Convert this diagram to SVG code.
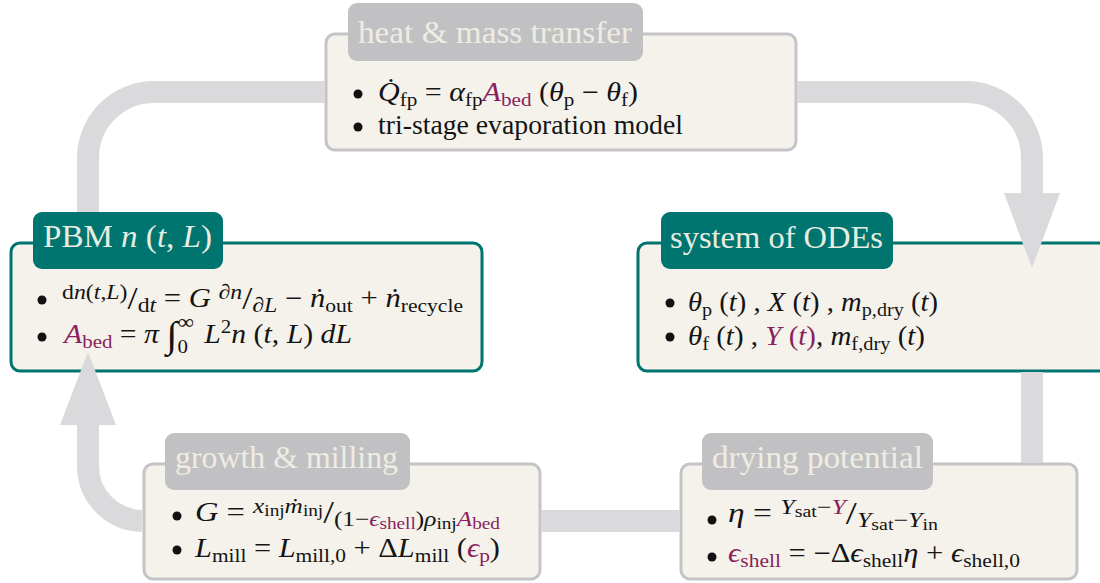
<svg xmlns="http://www.w3.org/2000/svg" width="1100" height="583" viewBox="0 0 1100 583">
  <style>
    .box-g { fill: #f4f2ea; stroke: #c4c4c6; stroke-width: 3; }
    .box-t { fill: #f4f2ea; stroke: #00746f; stroke-width: 3; }
    .hd-g { fill: #c1c1c4; }
    .hd-t { fill: #00746f; }
    .ht { font-family: "Liberation Serif", "DejaVu Serif", serif; font-size: 32px; }
    .ht-g { fill: #efece2; }
    .ht-t { fill: #e8ede2; }
    .m { font-family: "Liberation Serif", "DejaVu Serif", serif; font-size: 27px; fill: #141414; }
    .i { font-style: italic; }
    .s { font-size: 19px; }
    .ss { font-size: 14px; }
    .f { font-size: 21px; }
    .ff { font-size: 16px; }
    .big { font-size: 32px; }
    .int { font-size: 37px; }
    .p { fill: #8a1f60; }
    .band { fill: none; stroke: #dadadc; stroke-width: 22; }
    .head { fill: #dadadc; }
    .dot { fill: #111111; }
  </style>

  <!-- heat & mass transfer -->
  <g id="heat">
    <rect class="box-g" x="326" y="34" width="470" height="116" rx="9"/>
    <rect class="hd-g" x="348" y="3" width="295" height="58" rx="9"/>
    <text class="ht ht-g" x="358" y="43" textLength="274" lengthAdjust="spacingAndGlyphs">heat &amp; mass transfer</text>
    <circle class="dot" cx="358" cy="94" r="4.5"/>
    <circle class="dot" cx="358" cy="127" r="4.5"/>
    <text class="m" x="378" y="101" textLength="260" lengthAdjust="spacingAndGlyphs"><tspan class="i">Q̇</tspan><tspan class="s" dy="5">fp</tspan><tspan dy="-5"> = </tspan><tspan class="i">α</tspan><tspan class="s" dy="5">fp</tspan><tspan class="i p" dy="-5">A</tspan><tspan class="s p" dy="5">bed</tspan><tspan dy="-5"> (</tspan><tspan class="i">θ</tspan><tspan class="s" dy="5">p</tspan><tspan dy="-5"> − </tspan><tspan class="i">θ</tspan><tspan class="s" dy="5">f</tspan><tspan dy="-5">)</tspan></text>
    <text class="m" x="378" y="134" textLength="305" lengthAdjust="spacingAndGlyphs">tri-stage evaporation model</text>
  </g>

  <!-- population balance -->
  <g id="pbm">
    <rect class="box-t" x="11" y="243" width="471" height="128" rx="9"/>
    <rect class="hd-t" x="33" y="212" width="190" height="57" rx="9"/>
    <text class="ht ht-t" x="43" y="247" textLength="169" lengthAdjust="spacingAndGlyphs">PBM <tspan class="i">n</tspan> (<tspan class="i">t</tspan>, <tspan class="i">L</tspan>)</text>
    <circle class="dot" cx="42" cy="300" r="4.5"/>
    <circle class="dot" cx="42" cy="337" r="4.5"/>
    <text class="m" x="62" y="307" textLength="401" lengthAdjust="spacingAndGlyphs"><tspan class="f" dy="-8">d</tspan><tspan class="f i">n</tspan><tspan class="f">(</tspan><tspan class="f i">t</tspan><tspan class="f">,</tspan><tspan class="f i">L</tspan><tspan class="f">)</tspan><tspan class="big" dy="10">/</tspan><tspan class="f" dy="3">d</tspan><tspan class="f i">t</tspan><tspan dy="-5"> = </tspan><tspan class="i">G </tspan><tspan class="f" dy="-8">∂</tspan><tspan class="f i">n</tspan><tspan class="big" dy="10">/</tspan><tspan class="f" dy="3">∂</tspan><tspan class="f i">L</tspan><tspan dy="-5"> − </tspan><tspan class="i">ṅ</tspan><tspan class="s" dy="5">out</tspan><tspan dy="-5"> + </tspan><tspan class="i">ṅ</tspan><tspan class="s" dy="5">recycle</tspan></text>
    <text class="m" x="64" y="343" textLength="288" lengthAdjust="spacingAndGlyphs"><tspan class="i p">A</tspan><tspan class="s p" dy="5">bed</tspan><tspan dy="-5"> = </tspan><tspan class="i">π </tspan><tspan class="int" dy="4">∫</tspan><tspan class="f" dy="-18">∞</tspan><tspan class="s" dx="-15" dy="24">0</tspan><tspan dx="8" dy="-10"> </tspan><tspan class="i">L</tspan><tspan class="s" dy="-10">2</tspan><tspan class="i" dy="10">n</tspan><tspan> (</tspan><tspan class="i">t</tspan><tspan>, </tspan><tspan class="i">L</tspan><tspan>) </tspan><tspan class="i">dL</tspan></text>
  </g>

  <!-- ODE system -->
  <g id="odes">
    <rect class="box-t" x="638" y="243" width="480" height="128" rx="9"/>
    <rect class="hd-t" x="661" y="212" width="232" height="57" rx="9"/>
    <text class="ht ht-t" x="670" y="248" textLength="213" lengthAdjust="spacingAndGlyphs">system of ODEs</text>
    <circle class="dot" cx="670" cy="303" r="4.5"/>
    <circle class="dot" cx="670" cy="337" r="4.5"/>
    <text class="m" x="688" y="311" textLength="250" lengthAdjust="spacingAndGlyphs"><tspan class="i">θ</tspan><tspan class="s" dy="5">p</tspan><tspan dy="-5"> (</tspan><tspan class="i">t</tspan><tspan>) , </tspan><tspan class="i">X</tspan><tspan> (</tspan><tspan class="i">t</tspan><tspan>) , </tspan><tspan class="i">m</tspan><tspan class="s" dy="5">p,dry</tspan><tspan dy="-5"> (</tspan><tspan class="i">t</tspan><tspan>)</tspan></text>
    <text class="m" x="688" y="345" textLength="237" lengthAdjust="spacingAndGlyphs"><tspan class="i">θ</tspan><tspan class="s" dy="5">f</tspan><tspan dy="-5"> (</tspan><tspan class="i">t</tspan><tspan>) , </tspan><tspan class="i p">Y</tspan><tspan class="p"> (</tspan><tspan class="i p">t</tspan><tspan class="p">)</tspan><tspan>, </tspan><tspan class="i">m</tspan><tspan class="s" dy="5">f,dry</tspan><tspan dy="-5"> (</tspan><tspan class="i">t</tspan><tspan>)</tspan></text>
  </g>

  <!-- growth & milling -->
  <g id="growth">
    <rect class="box-g" x="144" y="464" width="396" height="115" rx="9"/>
    <rect class="hd-g" x="165" y="433" width="245" height="57" rx="9"/>
    <text class="ht ht-g" x="175" y="468" textLength="223" lengthAdjust="spacingAndGlyphs">growth &amp; milling</text>
    <circle class="dot" cx="177" cy="516" r="4.5"/>
    <circle class="dot" cx="177" cy="550" r="4.5"/>
    <text class="m" x="195" y="521" textLength="305" lengthAdjust="spacingAndGlyphs"><tspan class="i">G</tspan><tspan> = </tspan><tspan class="f i" dy="-8">x</tspan><tspan class="ff" dy="3">inj</tspan><tspan class="f i" dy="-3">ṁ</tspan><tspan class="ff" dy="3">inj</tspan><tspan class="big" dy="7">/</tspan><tspan class="f" dy="3">(1−</tspan><tspan class="f i p">ϵ</tspan><tspan class="ff p" dy="3">shell</tspan><tspan class="f" dy="-3">)</tspan><tspan class="f i">ρ</tspan><tspan class="ff" dy="3">inj</tspan><tspan class="f i p" dy="-3">A</tspan><tspan class="ff p" dy="3">bed</tspan></text>
    <text class="m" x="195" y="557" textLength="305" lengthAdjust="spacingAndGlyphs"><tspan class="i">L</tspan><tspan class="s" dy="5">mill</tspan><tspan dy="-5"> = </tspan><tspan class="i">L</tspan><tspan class="s" dy="5">mill,0</tspan><tspan dy="-5"> + Δ</tspan><tspan class="i">L</tspan><tspan class="s" dy="5">mill</tspan><tspan dy="-5"> (</tspan><tspan class="i p">ϵ</tspan><tspan class="s p" dy="5">p</tspan><tspan dy="-5">)</tspan></text>
  </g>

  <!-- drying potential -->
  <g id="drying">
    <rect class="box-g" x="681" y="464" width="396" height="115" rx="9"/>
    <rect class="hd-g" x="702" y="433" width="231" height="57" rx="9"/>
    <text class="ht ht-g" x="712" y="468" textLength="211" lengthAdjust="spacingAndGlyphs">drying potential</text>
    <circle class="dot" cx="712" cy="520" r="4.5"/>
    <circle class="dot" cx="712" cy="557" r="4.5"/>
    <text class="m" x="728" y="522" textLength="210" lengthAdjust="spacingAndGlyphs"><tspan class="i">η</tspan><tspan> = </tspan><tspan class="f i" dy="-8">Y</tspan><tspan class="ff" dy="3">sat</tspan><tspan class="f" dy="-3">−</tspan><tspan class="f i p">Y</tspan><tspan class="big" dy="10">/</tspan><tspan class="f i" dy="3">Y</tspan><tspan class="ff" dy="3">sat</tspan><tspan class="f" dy="-3">−</tspan><tspan class="f i">Y</tspan><tspan class="ff" dy="3">in</tspan></text>
    <text class="m" x="728" y="562" textLength="292" lengthAdjust="spacingAndGlyphs"><tspan class="i p">ϵ</tspan><tspan class="s p" dy="5">shell</tspan><tspan dy="-5"> = −Δ</tspan><tspan class="i">ϵ</tspan><tspan class="s" dy="5">shell</tspan><tspan class="i" dy="-5">η</tspan><tspan> + </tspan><tspan class="i">ϵ</tspan><tspan class="s" dy="5">shell,0</tspan></text>
  </g>

  <!-- cycle connectors -->
  <g id="connectors">
    <path class="band" d="M 88 212 V 158 A 66 66 0 0 1 154 92 H 325"/>
    <path class="band" d="M 797 92 H 966 A 66 66 0 0 1 1032 158 V 194"/>
    <polygon class="head" points="1004,193 1060,193 1032,268"/>
    <path class="band" d="M 1032 372 V 463"/>
    <path class="band" d="M 680 521 H 541"/>
    <path class="band" d="M 142 521 A 55 55 0 0 1 88 466 V 424"/>
    <polygon class="head" points="60,425 116,425 88,352"/>
  </g>
</svg>
